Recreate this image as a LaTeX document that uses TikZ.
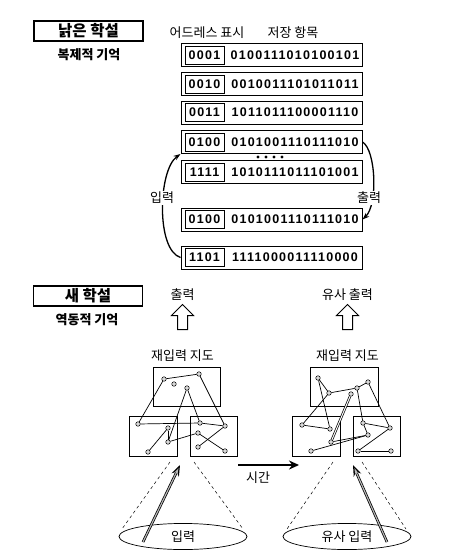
\documentclass[tikz,border=0pt]{standalone}
\usepackage{fontspec}
\usepackage{tikz}
\usetikzlibrary{arrows.meta, positioning, shapes.geometric, shapes.arrows}
\setmainfont{Noto Sans CJK KR}
\newfontfamily\bitfont[LetterSpace=10]{Liberation Sans}

\begin{document}
\begin{tikzpicture}[x=1pt, y=-1pt,
  titlebox/.style={draw, line width=1.1pt, minimum width=109pt, minimum height=20pt,
                   inner sep=0pt, font=\fontsize{15.5}{15.5}\selectfont\bfseries},
  subtitle/.style={font=\fontsize{13}{13}\selectfont\bfseries},
  txt/.style={font=\fontsize{13}{13}\selectfont, inner sep=1pt},
  rowbox/.style={draw, line width=1pt, minimum width=181pt, minimum height=23pt, inner sep=0pt},
  adrbox/.style={draw, line width=0.8pt, minimum width=39pt, minimum height=18pt, inner sep=0pt,
                 font=\bitfont\fontsize{12.5}{12.5}\selectfont\bfseries},
  bitrow/.style={inner sep=0pt, font=\bitfont\fontsize{12.5}{12.5}\selectfont\bfseries},
  feed/.style={-{Stealth[length=7pt, width=5pt]}, line width=1.3pt},
  mapbox/.style={draw, line width=0.7pt, inner sep=0pt},
  cell/.style={circle, draw, fill=gray!30, inner sep=0pt, minimum size=4.5pt, line width=0.5pt},
  link/.style={line width=0.7pt},
  bigarrow/.style={single arrow, draw, line width=1pt, shape border rotate=90, minimum height=25pt,
                   minimum width=21pt, single arrow head extend=6pt, inner sep=4.5pt},
  cone/.style={dashed, line width=0.5pt},
  field/.style={ellipse, draw, line width=0.7pt, minimum width=128pt, minimum height=23pt,
                font=\fontsize{13}{13}\selectfont},
]
  \useasboundingbox (0,0) rectangle (449,555);

  % old theory: replicative memory
  \node[titlebox] (oldT) at (88.5,31) {낡은 학설};
  \node[subtitle] (oldS) at (89,55) {복제적 기억};
  \node[txt] (adrH) at (207,33) {어드레스 표시};
  \node[txt] (stoH) at (293,33) {저장 항목};

  \foreach \n/\adr/\bits/\yy in {r1/0001/0100111010100101/55, r2/0010/0010011101011011/84,
      r3/0011/1011011100001110/112.5, r4/0100/0101001110111010/142,
      r5/1111/1010111011101001/172, r6/0100/0101001110111010/219.5,
      r7/1101/1111000011110000/257.5} {
    \node[rowbox] (\n) at (271.5,\yy) {};
    \node[adrbox] (\n-a) at (204.5,\yy) {\adr};
    \node[bitrow] (\n-b) at (295,\yy) {\bits};
  }
  \foreach \x in {258,266,274,282} \fill (\x,157) circle (1.6);

  \draw[feed] (r7.west) .. controls (156,250) and (158,170) .. (r4.south west);
  \draw[feed] (r4.east) .. controls (376,150) and (378,205) .. (r6.east);
  \node[txt, fill=white] (inLab) at (162,198) {입력};
  \node[txt, fill=white] (outLab) at (369,198) {출력};

  % new theory: dynamic memory
  \node[titlebox] (newT) at (88,296) {새 학설};
  \node[subtitle] (newS) at (87,320) {역동적 기억};
  \node[txt] (outL) at (182.5,295) {출력};
  \node[txt] (outR) at (347.5,295) {유사 출력};
  \node[bigarrow] (upL) at (182.5,319.5) {};
  \node[bigarrow] (upR) at (347.5,319.5) {};
  \node[txt] (mapL) at (182.5,356) {재입력 지도};
  \node[txt] (mapR) at (347.5,356) {재입력 지도};

  % left map
  \node[mapbox, minimum width=67pt, minimum height=39pt] (tL) at (186.5,386.5) {};
  \node[mapbox, minimum width=48pt, minimum height=40pt] (lL) at (153,436) {};
  \node[mapbox, minimum width=47pt, minimum height=40pt] (rL) at (213.5,436) {};
  \foreach \n/\p in {a1/{164,379}, a2/{199,374}, a3/{174,384}, a4/{187,388},
      b1/{138,424}, b2/{168,428}, b3/{168,442}, b4/{148,452},
      c1/{200,423}, c2/{225,426}, c3/{198,433}, c4/{198,447}, c5/{225,451}}
    \node[cell] (\n) at (\p) {};
  \foreach \u/\v in {a1/a2, a1/b1, a2/c2, a4/b3, a4/c1, b1/c1, c1/c2,
      b4/b2, b2/b3, b3/c3, c3/c5, c4/c2}
    \draw[link] (\u) -- (\v);

  % right map
  \node[mapbox, minimum width=68pt, minimum height=39pt] (tR) at (344,386.5) {};
  \node[mapbox, minimum width=48pt, minimum height=40pt] (lR) at (316.5,436) {};
  \node[mapbox, minimum width=47pt, minimum height=40pt] (rR) at (377,436) {};
  \foreach \n/\p in {d1/{318,378}, d2/{329,393}, d3/{357,388}, d4/{368,382}, d5/{351,394},
      e1/{302,425}, e2/{330,429}, e3/{331,442}, e4/{311,451},
      f1/{363,423}, f2/{390,428}, f3/{368,435}, f4/{358,451}, f5/{391,451}}
    \node[cell] (\n) at (\p) {};
  \foreach \u/\v in {d1/d2, d1/e2, d2/d3, d3/d4, d2/e1, d3/f1, d4/f2,
      e1/e2, e3/f3, e4/f3, f1/f2, f1/f3, f2/f4, f4/f5}
    \draw[link] (\u) -- (\v);
  \draw[link, double, double distance=1pt] (d5) -- (e3);

  % time
  \coordinate (t0) at (238,465);
  \coordinate (t1) at (299,465);
  \draw[line width=2.5pt, -{Stealth[length=10pt, width=9pt]}] (t0) -- (t1);
  \node[txt] (timeLab) at (258,478) {시간};

  % input fields
  \node[field] (inL) at (183,536.5) {입력};
  \node[field] (inR) at (347,536.5) {유사 입력};
  \coordinate (cL1) at (170,462);
  \coordinate (cL2) at (194,462);
  \coordinate (cR1) at (333,462);
  \coordinate (cR2) at (362,462);
  \coordinate (eL1) at (122,529);
  \coordinate (eL2) at (243,529);
  \coordinate (eR1) at (287,529);
  \coordinate (eR2) at (406,529);
  \draw[cone] (cL1) -- (eL1);
  \draw[cone] (cL2) -- (eL2);
  \draw[cone] (cR1) -- (eR1);
  \draw[cone] (cR2) -- (eR2);

  \coordinate (gL0) at (143,542);
  \coordinate (gL1) at (180,465);
  \coordinate (gR0) at (387,542);
  \coordinate (gR1) at (353,465);
  \foreach \s/\e in {gL0/gL1, gR0/gR1} {
    \draw[line width=2.6pt, -{Stealth[length=11pt, width=8pt]}] (\s) -- (\e);
    \draw[line width=1.1pt, gray!55, shorten >=3.5pt, -{Stealth[length=6pt, width=3.5pt]}] (\s) -- (\e);
  }
\end{tikzpicture}
\end{document}
